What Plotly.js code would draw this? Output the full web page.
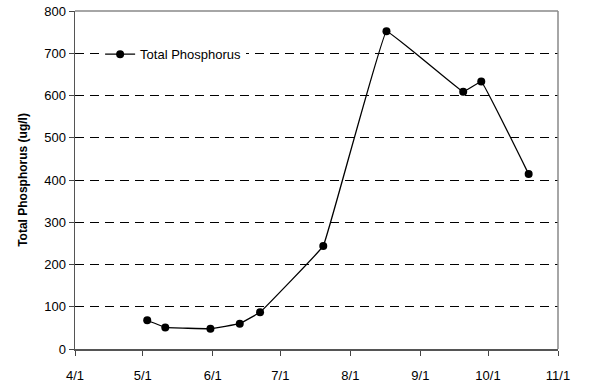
<!DOCTYPE html>
<html><head><meta charset="utf-8">
<script src="https://cdn.plot.ly/plotly-3.0.1.min.js"></script>
<style>html,body{margin:0;padding:0;background:#fff}#c{width:589px;height:387px}</style>
</head><body><div id="c"></div>
<script>
var dates = ["2006-05-03","2006-05-11","2006-05-31","2006-06-13","2006-06-22","2006-07-20","2006-08-17","2006-09-20","2006-09-28","2006-10-19"];
var phosphorus = [68, 51, 48, 60, 87, 244, 752, 609, 633, 414];
var tickDates = ["2006-04-01","2006-05-01","2006-06-01","2006-07-01","2006-08-01","2006-09-01","2006-10-01","2006-11-01"];
var tickLabels = ["4/1","5/1","6/1","7/1","8/1","9/1","10/1","11/1"];
var seriesName = "Total Phosphorus";
var yTitle = "Total Phosphorus (ug/l)";

var trace = {
  x: dates, y: phosphorus, type: "scatter", mode: "lines+markers", name: seriesName,
  line: {color: "#000", width: 1.3, shape: "spline", smoothing: 0.15},
  marker: {color: "#000", size: 8}
};
var layout = {
  width: 589, height: 387,
  margin: {l: 75, r: 31, t: 11, b: 37.5},
  paper_bgcolor: "#fff", plot_bgcolor: "#fff",
  font: {family: "Arial, Liberation Sans, sans-serif", size: 13, color: "#000"},
  showlegend: true,
  legend: {x: 0.052, y: 0.872, xanchor: "left", yanchor: "middle", bgcolor: "#fff",
    font: {size: 13, color: "#000"}, borderwidth: 0},
  xaxis: {
    type: "date", range: ["2006-04-01", "2006-11-01"],
    tickmode: "array", tickvals: tickDates, ticktext: tickLabels,
    ticks: "outside", ticklen: 5, tickcolor: "#444", tickwidth: 1,
    ticklabelstandoff: 9,
    showgrid: false, zeroline: false,
    showline: true, linecolor: "#555", linewidth: 1.5, mirror: false,
    tickfont: {size: 13}
  },
  yaxis: {
    range: [0, 800], tickvals: [0,100,200,300,400,500,600,700,800],
    ticks: "outside", ticklen: 5, tickcolor: "#444",
    showgrid: true, gridcolor: "#000", griddash: "9px,6px", gridwidth: 1,
    zeroline: false, showline: true, linecolor: "#555", linewidth: 1.5,
    tickfont: {size: 13},
    title: {text: "<b>" + yTitle + "</b>", font: {size: 12}, standoff: 14}
  },
  shapes: [
    {type: "line", xref: "paper", yref: "paper", x0: 0, x1: 1, y0: 1, y1: 1, line: {color: "#888", width: 1.5}},
    {type: "line", xref: "paper", yref: "paper", x0: 1, x1: 1, y0: 0, y1: 1, line: {color: "#888", width: 1.5}}
  ]
};
Plotly.newPlot("c", [trace], layout, {displayModeBar: false, staticPlot: true});
</script></body></html>
